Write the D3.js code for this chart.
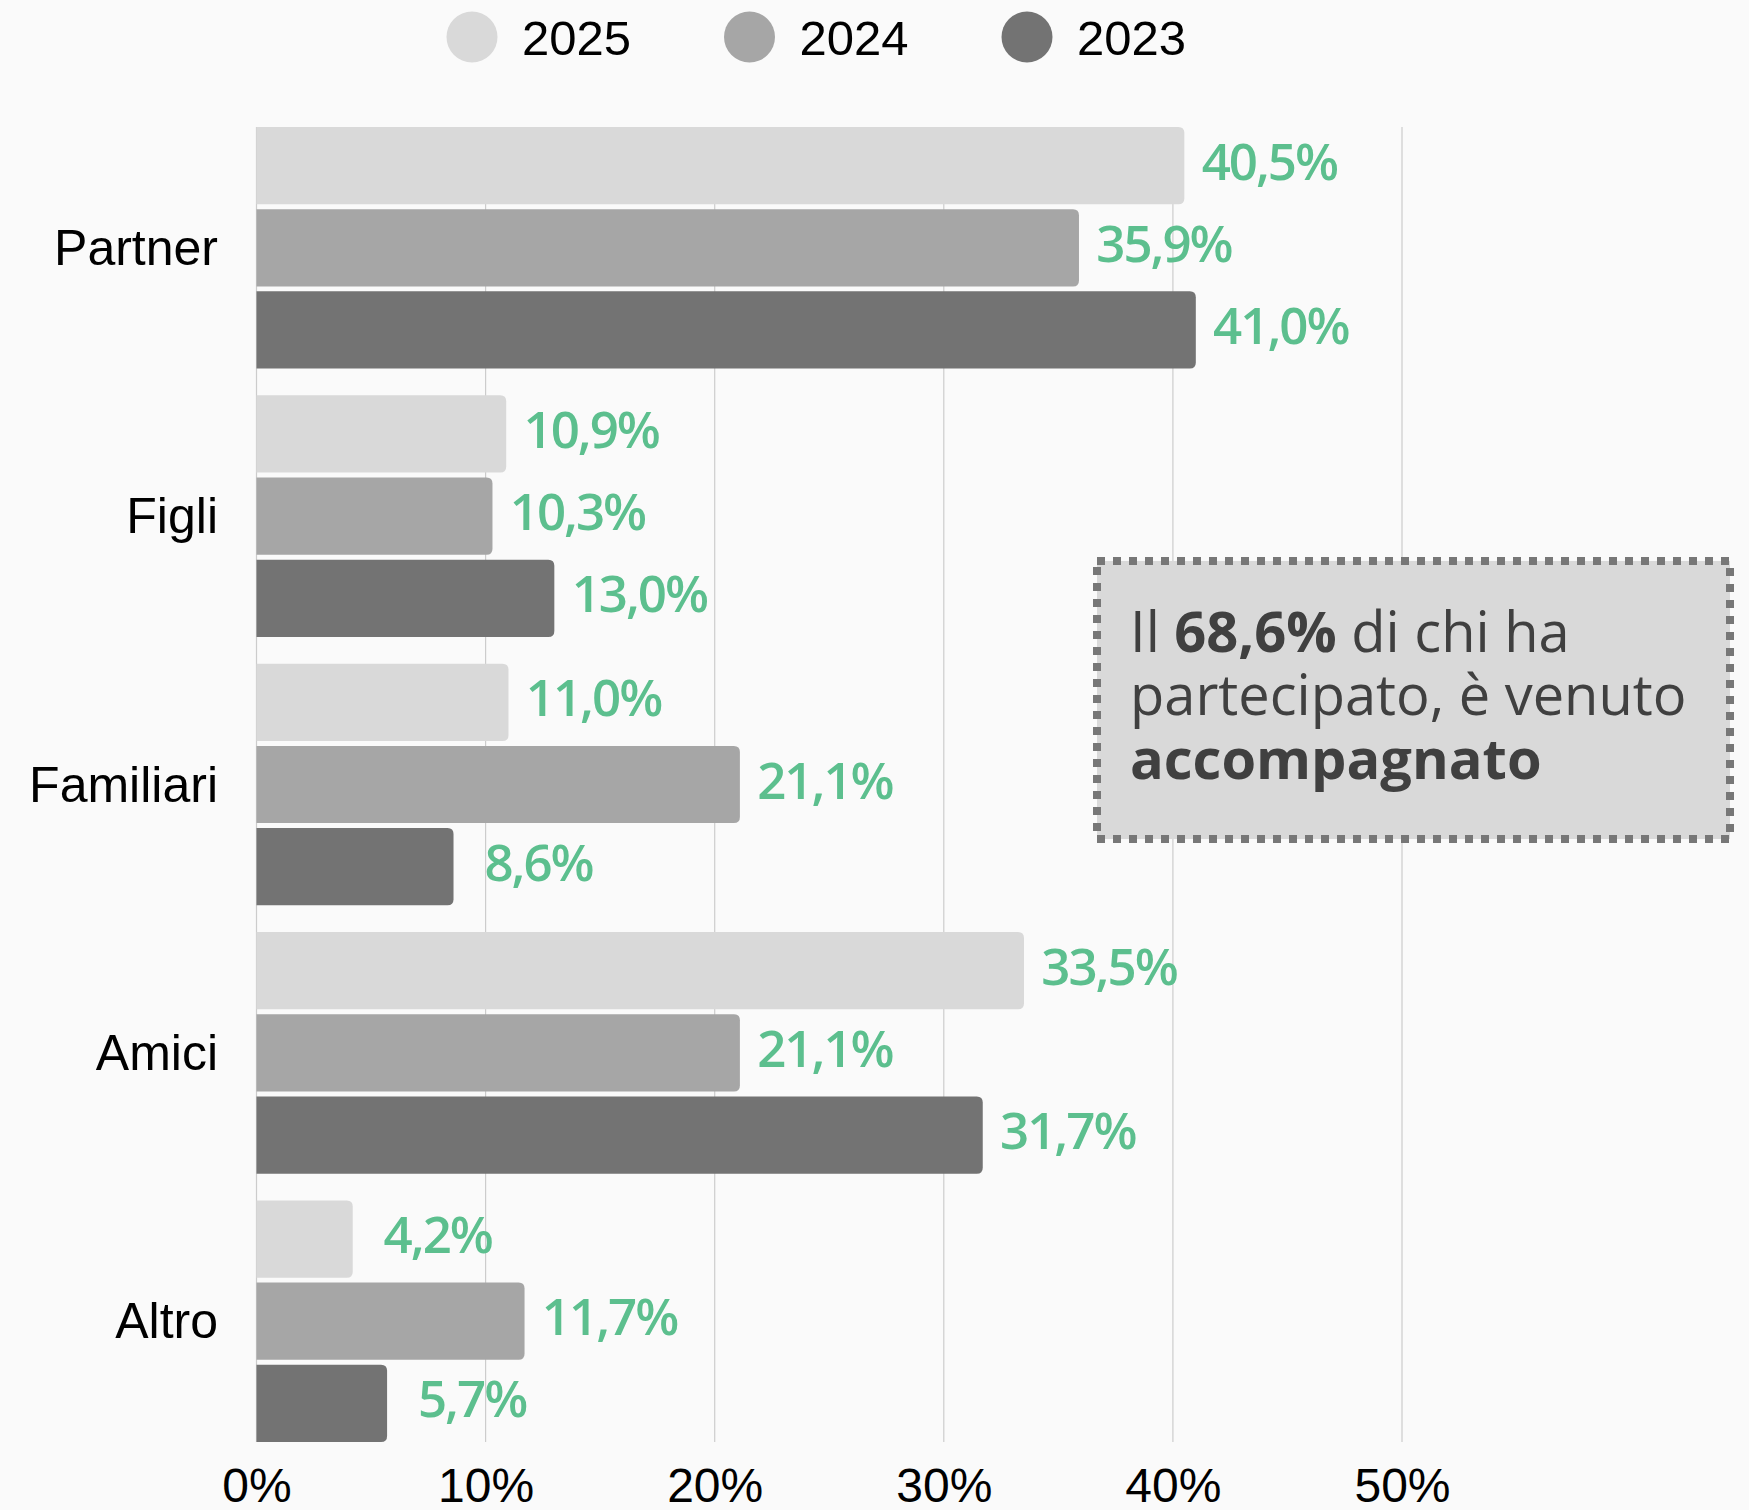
<!DOCTYPE html>
<html>
  <head>
    <meta charset="UTF-8">
    <title>Accompagnatori</title>
    <style>
      html, body { margin: 0; padding: 0; background: #fafafa; }
      svg { display: block; }
    </style>
  </head>
  <body>
    <svg></svg>
    <script src="https://cdn.jsdelivr.net/npm/d3@7"></script>
    <script>

// data
var categories = ["Partner", "Figli", "Familiari", "Amici", "Altro"];
var years = ["2025", "2024", "2023"];
var values2025 = [40.5, 10.9, 11.0, 33.5, 4.2];
var values2024 = [35.9, 10.3, 21.1, 21.1, 11.7];
var values2023 = [41.0, 13.0, 8.6, 31.7, 5.7];
var tickValues = [0, 10, 20, 30, 40, 50];
var yearColors = ["#d9d9d9", "#a6a6a6", "#737373"];

var config = {
  "width": 1749,
  "height": 1510,
  "plotLeft": 256.5,
  "plotTop": 127,
  "plotBottom": 1442,
  "x50": 1402,
  "labelFont": "'Liberation Sans', Arial, sans-serif",
  "valueFont": "'Open Sans', sans-serif",
  "green": "#5cbf8e"
};

var series = [values2025, values2024, values2023];
var rows = [];
categories.forEach(function(c, i) {
  years.forEach(function(y, j) {
    rows.push({cat: c, year: y, value: series[j][i], color: yearColors[j]});
  });
});

var svg = d3.select("svg")
  .attr("width", config.width)
  .attr("height", config.height);

svg.append("rect")
  .attr("width", config.width)
  .attr("height", config.height)
  .attr("fill", "#fafafa");

var x = d3.scaleLinear()
  .domain([0, 50])
  .range([config.plotLeft, config.x50]);

var y0 = d3.scaleBand()
  .domain(categories)
  .range([config.plotTop, config.plotBottom])
  .paddingInner(0.1)
  .paddingOuter(0);

var y1 = d3.scaleBand()
  .domain(years)
  .range([0, y0.bandwidth()])
  .paddingInner(0.06);

// gridlines
svg.append("g")
  .selectAll("line")
  .data(tickValues)
  .enter().append("line")
    .attr("x1", function(d) { return x(d); })
    .attr("x2", function(d) { return x(d); })
    .attr("y1", config.plotTop)
    .attr("y2", config.plotBottom)
    .attr("stroke", "#cccccc")
    .attr("stroke-width", 1.2);

// x axis labels
var xAxis = d3.axisBottom(x)
  .tickValues(tickValues)
  .tickSize(0)
  .tickPadding(0)
  .tickFormat(function(d) { return d + "%"; });

var axisG = svg.append("g")
  .attr("transform", "translate(0," + 1468 + ")")
  .call(xAxis);
axisG.select(".domain").remove();
axisG.selectAll("text")
  .attr("dy", "0.71em")
  .attr("fill", "#000")
  .style("font-family", config.labelFont)
  .style("font-size", "48px");

// bars with rounded right ends
function barPath(x0, x1, yTop, h, r) {
  r = Math.min(r, (x1 - x0));
  return "M" + x0 + "," + yTop +
    "H" + (x1 - r) +
    "Q" + x1 + "," + yTop + " " + x1 + "," + (yTop + r) +
    "V" + (yTop + h - r) +
    "Q" + x1 + "," + (yTop + h) + " " + (x1 - r) + "," + (yTop + h) +
    "H" + x0 + "Z";
}

svg.append("g")
  .selectAll("path")
  .data(rows)
  .enter().append("path")
    .attr("d", function(d) {
      return barPath(x(0), x(d.value), y0(d.cat) + y1(d.year), y1.bandwidth(), 6);
    })
    .attr("fill", function(d) { return d.color; });

// value labels
var fmt = d3.format(".1f");
svg.append("g")
  .selectAll("text")
  .data(rows)
  .enter().append("text")
    .attr("x", function(d) { return x(d.value) + 85; })
    .attr("y", function(d) { return y0(d.cat) + y1(d.year) + y1.bandwidth() / 2 + 14; })
    .attr("text-anchor", "middle")
    .attr("fill", config.green)
    .style("font-family", config.valueFont)
    .style("font-weight", 600)
    .style("font-size", "51px")
    .style("letter-spacing", "-2px")
    .text(function(d) { return fmt(d.value).replace(".", ",") + "%"; });

// category labels
svg.append("g")
  .selectAll("text")
  .data(categories)
  .enter().append("text")
    .attr("x", 218)
    .attr("y", function(d) { return y0(d) + y0.bandwidth() / 2 + 17; })
    .attr("text-anchor", "end")
    .attr("fill", "#000")
    .style("font-family", config.labelFont)
    .style("font-size", "50px")
    .text(function(d) { return d; });

// legend
var legend = svg.append("g")
  .selectAll("g")
  .data(years)
  .enter().append("g")
    .attr("transform", function(d, i) { return "translate(" + (472 + i * 277.5) + ",37)"; });

legend.append("circle")
  .attr("r", 25.5)
  .attr("fill", function(d, i) { return yearColors[i]; });

legend.append("text")
  .attr("x", 50)
  .attr("y", 18)
  .attr("fill", "#000")
  .style("font-family", config.labelFont)
  .style("font-size", "49px")
  .text(function(d) { return d; });

// annotation box
var note = svg.append("g");
note.append("rect")
  .attr("x", 1097)
  .attr("y", 561)
  .attr("width", 633)
  .attr("height", 278)
  .attr("fill", "#d9d9d9")
  .attr("stroke", "#777777")
  .attr("stroke-width", 8)
  .attr("stroke-dasharray", "8,8");

var noteText = note.append("text")
  .attr("fill", "#404040")
  .style("font-family", config.valueFont)
  .style("font-size", "56px");

var line1 = noteText.append("tspan").attr("x", 1130).attr("y", 652);
line1.append("tspan").text("Il ");
line1.append("tspan").style("font-weight", 700).text("68,6%");
line1.append("tspan").text(" di chi ha");
noteText.append("tspan").attr("x", 1130).attr("y", 715).text("partecipato, è venuto");
noteText.append("tspan").attr("x", 1130).attr("y", 779).style("font-weight", 700).text("accompagnato");

    </script>
  </body>
</html>
